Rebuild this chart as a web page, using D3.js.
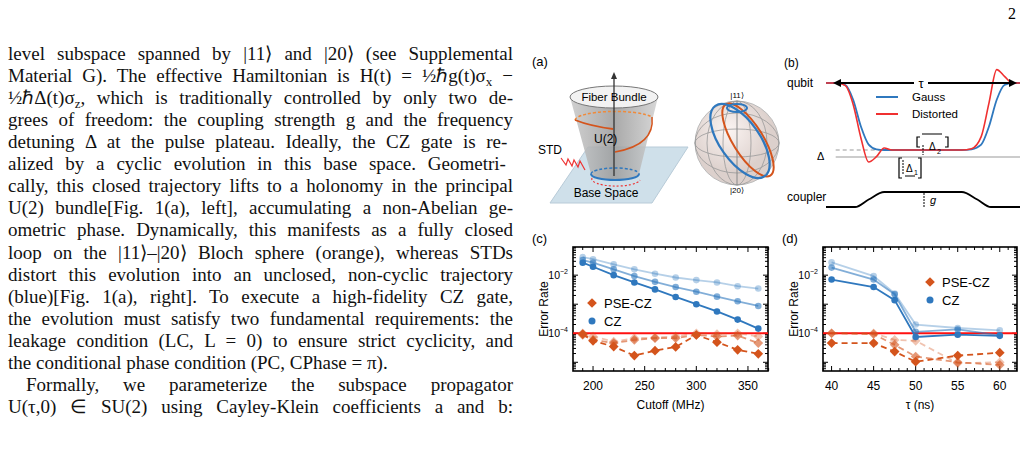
<!DOCTYPE html>
<html><head><meta charset="utf-8">
<script src="https://cdn.jsdelivr.net/npm/d3@7"></script>
<style>body{margin:0;background:#fff}svg{display:block}</style>
</head><body><div id="page"></div>
<script>
// ---- data ----
var cutoff = [190,200,220,240,260,280,300,320,340,360];
var czC = [
  [-1.38,-1.45,-1.63,-1.80,-1.95,-2.08,-2.17,-2.25,-2.38,-2.46],
  [-1.48,-1.57,-1.80,-2.03,-2.23,-2.41,-2.57,-2.74,-2.90,-3.06],
  [-1.57,-1.71,-2.00,-2.25,-2.49,-2.75,-3.00,-3.25,-3.53,-3.84]];
var pseC = [
  [-4.00,-4.11,-4.29,-4.17,-4.15,-4.11,-4.00,-4.03,-4.00,-4.11],
  [-4.06,-4.23,-4.34,-4.23,-4.17,-4.17,-4.06,-4.11,-4.08,-4.34],
  [-4.03,-4.26,-4.46,-4.77,-4.60,-4.47,-4.06,-4.31,-4.57,-4.71]];
var tau = [40,45,47.5,50,55,60];
var czD = [
  [-1.56,-2.03,-2.63,-3.70,-3.82,-3.90],
  [-1.74,-2.15,-2.66,-3.95,-3.87,-4.07],
  [-2.15,-2.41,-2.86,-4.13,-4.05,-4.09]];
var pseD = [
  [-4.00,-4.00,-4.23,-4.26,-5.03,-5.00],
  [-4.00,-4.03,-4.40,-4.80,-5.00,-5.09],
  [-4.34,-4.34,-4.63,-4.98,-4.77,-4.67]];
var shades = [0.35,0.6,1];
var xTicksC = [200,250,300,350], xTicksD = [40,45,50,55,60];

var textLines = [
 ["level subspace spanned by |11⟩ and |20⟩ (see Supplemental",1],
 ["Material G). The effective Hamiltonian is H(t) = ½ℏg(t)σ_x −",1],
 ["½ℏΔ(t)σ_z, which is traditionally controlled by only two de-",1],
 ["grees of freedom: the coupling strength g and the frequency",1],
 ["detuning Δ at the pulse plateau.  Ideally, the CZ gate is re-",1],
 ["alized by a cyclic evolution in this base space.  Geometri-",1],
 ["cally, this closed trajectory lifts to a holonomy in the principal",1],
 ["U(2) bundle[Fig. 1(a), left], accumulating a non-Abelian ge-",1],
 ["ometric phase. Dynamically, this manifests as a fully closed",1],
 ["loop on the |11⟩–|20⟩ Bloch sphere (orange), whereas STDs",1],
 ["distort this evolution into an unclosed, non-cyclic trajectory",1],
 ["(blue)[Fig. 1(a), right]. To execute a high-fidelity CZ gate,",1],
 ["the evolution must satisfy two fundamental requirements: the",1],
 ["leakage condition (LC, L = 0) to ensure strict cyclicity, and",1],
 ["the conditional phase condition (PC, CPhase = π).",0],
 ["Formally, we parameterize the subspace propagator",2],
 ["U(τ,0) ∈ SU(2) using Cayley-Klein coefficients a and b:",1]];

var W = 1029, H = 451;
var svg = d3.select("#page").append("svg").attr("width",W).attr("height",H);
var blue = "#2f78be", orange = "#d4541c";

// ---- text column ----
svg.append("text").attr("x",1016).attr("y",19).attr("text-anchor","end")
  .attr("font-family","Liberation Serif").attr("font-size",16).text("2");
textLines.forEach(function(l,i){
  var x0 = l[1]==2 ? 26 : 8;
  var t = svg.append("text").attr("x",x0).attr("y",60+i*22.06)
    .attr("font-family","Liberation Serif").attr("font-size",19).attr("fill","#111");
  var sub = false;
  l[0].split(/(_\w)/).forEach(function(p){
    if (!p) return;
    if (p[0]=="_") { t.append("tspan").attr("font-size",13).attr("dy",4).text(p[1]); sub = true; }
    else { t.append("tspan").attr("dy",sub?-4:0).text(p); sub = false; }
  });
  if (l[1]>0) {
    var gap = (513-x0) - t.node().getComputedTextLength();
    var n = l[0].split(" ").length-1;
    if (n>0) t.attr("word-spacing",gap/n);
  }
});

var sans = "Liberation Sans";
function lab(x,y,s,size,anchor){
  return svg.append("text").attr("x",x).attr("y",y).attr("font-family",sans)
    .attr("font-size",size||12).attr("text-anchor",anchor||"start").text(s);
}

// ---- panel (a) ----
lab(532,66,"(a)",13);
svg.append("path").attr("d","M550,203 L588,147 L688,147 L652,203 Z")
  .attr("fill","#cfe0ea").attr("stroke","#b8cbd8");
var cg = svg.append("defs").append("linearGradient").attr("id","cone").attr("x1",0).attr("x2",1);
cg.append("stop").attr("offset",0).attr("stop-color","#c8c8c8");
cg.append("stop").attr("offset",0.5).attr("stop-color","#9a9a9a");
cg.append("stop").attr("offset",1).attr("stop-color","#d0d0d0");
svg.append("path").attr("d","M570,97 L591,174 A24,6 0 0 0 639,174 L658,97 Z").attr("fill","url(#cone)").attr("opacity",0.85);
svg.append("ellipse").attr("cx",614).attr("cy",97).attr("rx",44).attr("ry",11).attr("fill","#f2f2f2").attr("stroke","#777");
svg.append("path").attr("d","M591,174 A24,6 0 0 1 639,174").attr("fill","none").attr("stroke",blue).attr("stroke-width",1.5).attr("stroke-dasharray","3,2");
svg.append("path").attr("d","M591,174 A24,6 0 0 0 639,174").attr("fill","none").attr("stroke",blue).attr("stroke-width",2);
svg.append("path").attr("d","M592,178 A24,7 0 0 0 640,180").attr("fill","none").attr("stroke","#ee3333").attr("stroke-width",1.2).attr("stroke-dasharray","2,2");
svg.append("path").attr("d","M575,120 A40,9 0 0 1 652,117").attr("fill","none").attr("stroke","#f08a3a").attr("stroke-width",1.5).attr("stroke-dasharray","3,2");
svg.append("path").attr("d","M575,120 Q590,126 613,129").attr("fill","none").attr("stroke",orange).attr("stroke-width",1.8);
svg.append("path").attr("d","M652,117 Q655,145 615,152").attr("fill","none").attr("stroke",orange).attr("stroke-width",1.5);
svg.append("line").attr("x1",614).attr("y1",176).attr("x2",614).attr("y2",76).attr("stroke","#333").attr("stroke-width",1.3);
svg.append("path").attr("d","M611,79 L614,72 L617,79Z").attr("fill","#333");
lab(614,101,"Fiber  Bundle",11.5,"middle");
lab(594,143,"U(2)",12);
lab(538,154,"STD",12);
svg.append("path").attr("d","M561,158 L566,165 L568,159 L572,166 L574,160 L578,167 L580,161 L585,170").attr("fill","none").attr("stroke","#ee3333").attr("stroke-width",1.2);
lab(606,197,"Base Space",12,"middle");
var sg = svg.append("defs").append("radialGradient").attr("id","sph").attr("cx","40%").attr("cy","35%");
sg.append("stop").attr("offset",0).attr("stop-color","#fbf4f2");
sg.append("stop").attr("offset",1).attr("stop-color","#dcd0cc");
svg.append("circle").attr("cx",737).attr("cy",143).attr("r",42).attr("fill","url(#sph)").attr("stroke","#bbb");
[[42,14],[42,30],[14,42],[30,42]].forEach(function(r){
  svg.append("ellipse").attr("cx",737).attr("cy",143).attr("rx",r[0]).attr("ry",r[1]).attr("fill","none").attr("stroke","#999").attr("stroke-width",0.8);
});
svg.append("line").attr("x1",737).attr("y1",101).attr("x2",737).attr("y2",185).attr("stroke","#888");
svg.append("ellipse").attr("cx",748).attr("cy",140).attr("rx",42).attr("ry",15).attr("transform","rotate(58 748 140)").attr("fill","none").attr("stroke",orange).attr("stroke-width",2);
svg.append("ellipse").attr("cx",740).attr("cy",141).attr("rx",43).attr("ry",20).attr("transform","rotate(55 740 141)").attr("fill","none").attr("stroke",blue).attr("stroke-width",2.2);
svg.append("ellipse").attr("cx",737).attr("cy",108).attr("rx",10).attr("ry",4).attr("fill","none").attr("stroke",blue).attr("stroke-width",2);
lab(737,98,"|11⟩",8,"middle");
lab(737,193,"|20⟩",8,"middle");

// ---- panel (b) ----
lab(784,67,"(b)",12);
var tb = [0,6,10,14,18,22,26,30,34,70,75,80,84,88,92,96,100];
var gauss = [1,1,0.97,0.75,0.35,0.08,0.01,0,0,0,0.01,0.08,0.35,0.75,0.97,1,1];
var dist  = [1,1,0.96,0.68,0.18,-0.18,-0.10,0.03,0.0,0,0.02,0.20,0.70,1.20,1.10,1,1];
var bx = d3.scaleLinear().domain([0,100]).range([826,1020]);
var by = d3.scaleLinear().domain([0,1]).range([150,83]);
var lineB = d3.line().x(function(d){return bx(d[0]);}).y(function(d){return by(d[1]);}).curve(d3.curveMonotoneX);
svg.append("line").attr("x1",bx(5)).attr("x2",1020).attr("y1",157).attr("y2",157).attr("stroke","#999").attr("stroke-width",1.2);
svg.append("line").attr("x1",bx(5)).attr("x2",bx(30)).attr("y1",150).attr("y2",150).attr("stroke","#999").attr("stroke-dasharray","4,3");
svg.append("path").attr("d",lineB(d3.zip(tb,gauss))).attr("fill","none").attr("stroke",blue).attr("stroke-width",1.8);
svg.append("path").attr("d",lineB(d3.zip(tb,dist))).attr("fill","none").attr("stroke","#f03030").attr("stroke-width",1.6);
lab(787,87,"qubit",12);
lab(817,160,"Δ",11);
svg.append("line").attr("x1",836).attr("x2",1012).attr("y1",83).attr("y2",83).attr("stroke","#000").attr("stroke-width",1.8);
svg.append("path").attr("d","M833,83 l8,-4 v8z M1017,83 l-8,-4 v8z").attr("fill","#000");
svg.append("rect").attr("x",914).attr("y",76).attr("width",14).attr("height",12).attr("fill","#fff");
lab(921,88,"τ",13,"middle");
svg.append("line").attr("x1",876).attr("x2",898).attr("y1",97).attr("y2",97).attr("stroke",blue).attr("stroke-width",2);
svg.append("line").attr("x1",876).attr("x2",898).attr("y1",114).attr("y2",114).attr("stroke","#f03030").attr("stroke-width",2);
lab(912,101,"Gauss",11.5); lab(912,118,"Distorted",11.5);
svg.append("path").attr("d","M920,137 h-3 v10 h3 M945,137 h3 v10 h-3 M922,134 h20").attr("fill","none").attr("stroke","#000").attr("stroke-width",1.2);
lab(929,150,"Δ",10); lab(937,154,"2",7);
svg.append("path").attr("d","M902,158 h-3 v20 h3 M918,158 h3 v20 h-3 M905,176 h10").attr("fill","none").attr("stroke","#000").attr("stroke-width",1.2);
lab(906,172,"Δ",10); lab(914,175,"1",7);
svg.append("line").attr("x1",923).attr("x2",923).attr("y1",145).attr("y2",155).attr("stroke","#000").attr("stroke-dasharray","2,1");
svg.append("line").attr("x1",903).attr("x2",903).attr("y1",160).attr("y2",175).attr("stroke","#000").attr("stroke-dasharray","2,1");
var cplT = [0,15,22,30,70,78,85,100], cplV = [0,0,0.5,1,1,0.5,0,0];
var cy = d3.scaleLinear().domain([0,1]).range([207,192]);
svg.append("path").attr("d",d3.line().x(function(d){return bx(d[0]);}).y(function(d){return cy(d[1]);}).curve(d3.curveMonotoneX)(d3.zip(cplT,cplV)))
  .attr("fill","none").attr("stroke","#000").attr("stroke-width",1.8);
lab(787,201,"coupler",12);
svg.append("line").attr("x1",924).attr("x2",924).attr("y1",193).attr("y2",207).attr("stroke","#000").attr("stroke-dasharray","2,1");
lab(930,204,"g",11).attr("font-style","italic");

// ---- panels (c) and (d) ----
function panel(opt){
  var x = d3.scaleLinear().domain(opt.xd).range([opt.x0,opt.x1]);
  var y = d3.scaleLinear().domain([-5.3,-1.03]).range([371,247]);
  var g = svg.append("g");
  g.append("rect").attr("x",opt.x0).attr("y",247).attr("width",opt.x1-opt.x0).attr("height",124)
    .attr("fill","none").attr("stroke","#000").attr("stroke-width",1.6);
  var ymin=[]; for (var e=-6;e<=-1;e++) for (var m=1;m<10;m++){var v=e+Math.log10(m); if(v>-5.3&&v<-1.03) ymin.push([v,m==1]);}
  ymin.forEach(function(t){
    var L = t[1]?5:3;
    g.append("line").attr("x1",opt.x0).attr("x2",opt.x0+L).attr("y1",y(t[0])).attr("y2",y(t[0])).attr("stroke","#000");
    g.append("line").attr("x1",opt.x1).attr("x2",opt.x1-L).attr("y1",y(t[0])).attr("y2",y(t[0])).attr("stroke","#000");
  });
  [-2,-4].forEach(function(v){
    var t = g.append("text").attr("x",opt.x0-5).attr("y",y(v)+4).attr("text-anchor","end").attr("font-family",sans).attr("font-size",10.5);
    t.append("tspan").text("10"); t.append("tspan").attr("dy",-5).attr("font-size",7).text("−"+(-v));
  });
  d3.range(opt.xd[0],opt.xd[1],opt.minor).forEach(function(v){
    v = Math.ceil(v/opt.minor)*opt.minor;
    var L = opt.ticks.indexOf(v)>=0?5:3;
    g.append("line").attr("x1",x(v)).attr("x2",x(v)).attr("y1",371).attr("y2",371-L).attr("stroke","#000");
    g.append("line").attr("x1",x(v)).attr("x2",x(v)).attr("y1",247).attr("y2",247+L).attr("stroke","#000");
  });
  opt.ticks.forEach(function(v){
    g.append("text").attr("x",x(v)).attr("y",390).attr("text-anchor","middle").attr("font-family",sans).attr("font-size",12).text(v);
  });
  g.append("text").attr("x",(opt.x0+opt.x1)/2).attr("y",409).attr("text-anchor","middle").attr("font-family",sans).attr("font-size",12).text(opt.xlabel);
  g.append("text").attr("transform","translate("+(opt.x0-25)+",309) rotate(-90)").attr("text-anchor","middle").attr("font-family",sans).attr("font-size",12).text("Error Rate");
  lab(opt.x0-41,243,opt.tag,13);
  var line = d3.line().x(function(d){return x(d[0]);}).y(function(d){return y(d[1]);});
  g.append("line").attr("x1",opt.x0).attr("x2",opt.x1).attr("y1",y(-4)).attr("y2",y(-4)).attr("stroke","#ff1010").attr("stroke-width",2);
  opt.pse.forEach(function(s,k){
    var pts = d3.zip(opt.xs,s);
    g.append("path").attr("d",line(pts)).attr("fill","none").attr("stroke",orange).attr("opacity",shades[k]).attr("stroke-width",1.8).attr("stroke-dasharray","6,4");
    g.selectAll(null).data(pts).enter().append("path").attr("d",d3.symbol(d3.symbolDiamond2,60)())
      .attr("transform",function(d){return "translate("+x(d[0])+","+y(d[1])+")";}).attr("fill",orange).attr("opacity",shades[k]);
  });
  opt.cz.forEach(function(s,k){
    var pts = d3.zip(opt.xs,s);
    g.append("path").attr("d",line(pts)).attr("fill","none").attr("stroke",blue).attr("opacity",shades[k]).attr("stroke-width",1.8);
    g.selectAll(null).data(pts).enter().append("circle").attr("cx",function(d){return x(d[0]);}).attr("cy",function(d){return y(d[1]);})
      .attr("r",3.3).attr("fill",blue).attr("opacity",shades[k]);
  });
  g.append("path").attr("d",d3.symbol(d3.symbolDiamond2,60)()).attr("transform","translate("+opt.lx+","+opt.ly+")").attr("fill",orange);
  g.append("circle").attr("cx",opt.lx).attr("cy",opt.ly+18).attr("r",3.5).attr("fill",blue);
  lab(opt.lx+12,opt.ly+5,"PSE-CZ",13); lab(opt.lx+12,opt.ly+23,"CZ",13);
}
panel({x0:573,x1:768,xd:[180.6,369.4],xs:cutoff,cz:czC,pse:pseC,ticks:xTicksC,minor:10,xlabel:"Cutoff (MHz)",tag:"(c)",lx:592,ly:303});
panel({x0:823,x1:1017,xd:[38.98,62.05],xs:tau,cz:czD,pse:pseD,ticks:xTicksD,minor:1,xlabel:"τ (ns)",tag:"(d)",lx:930,ly:282});
</script></body></html>
